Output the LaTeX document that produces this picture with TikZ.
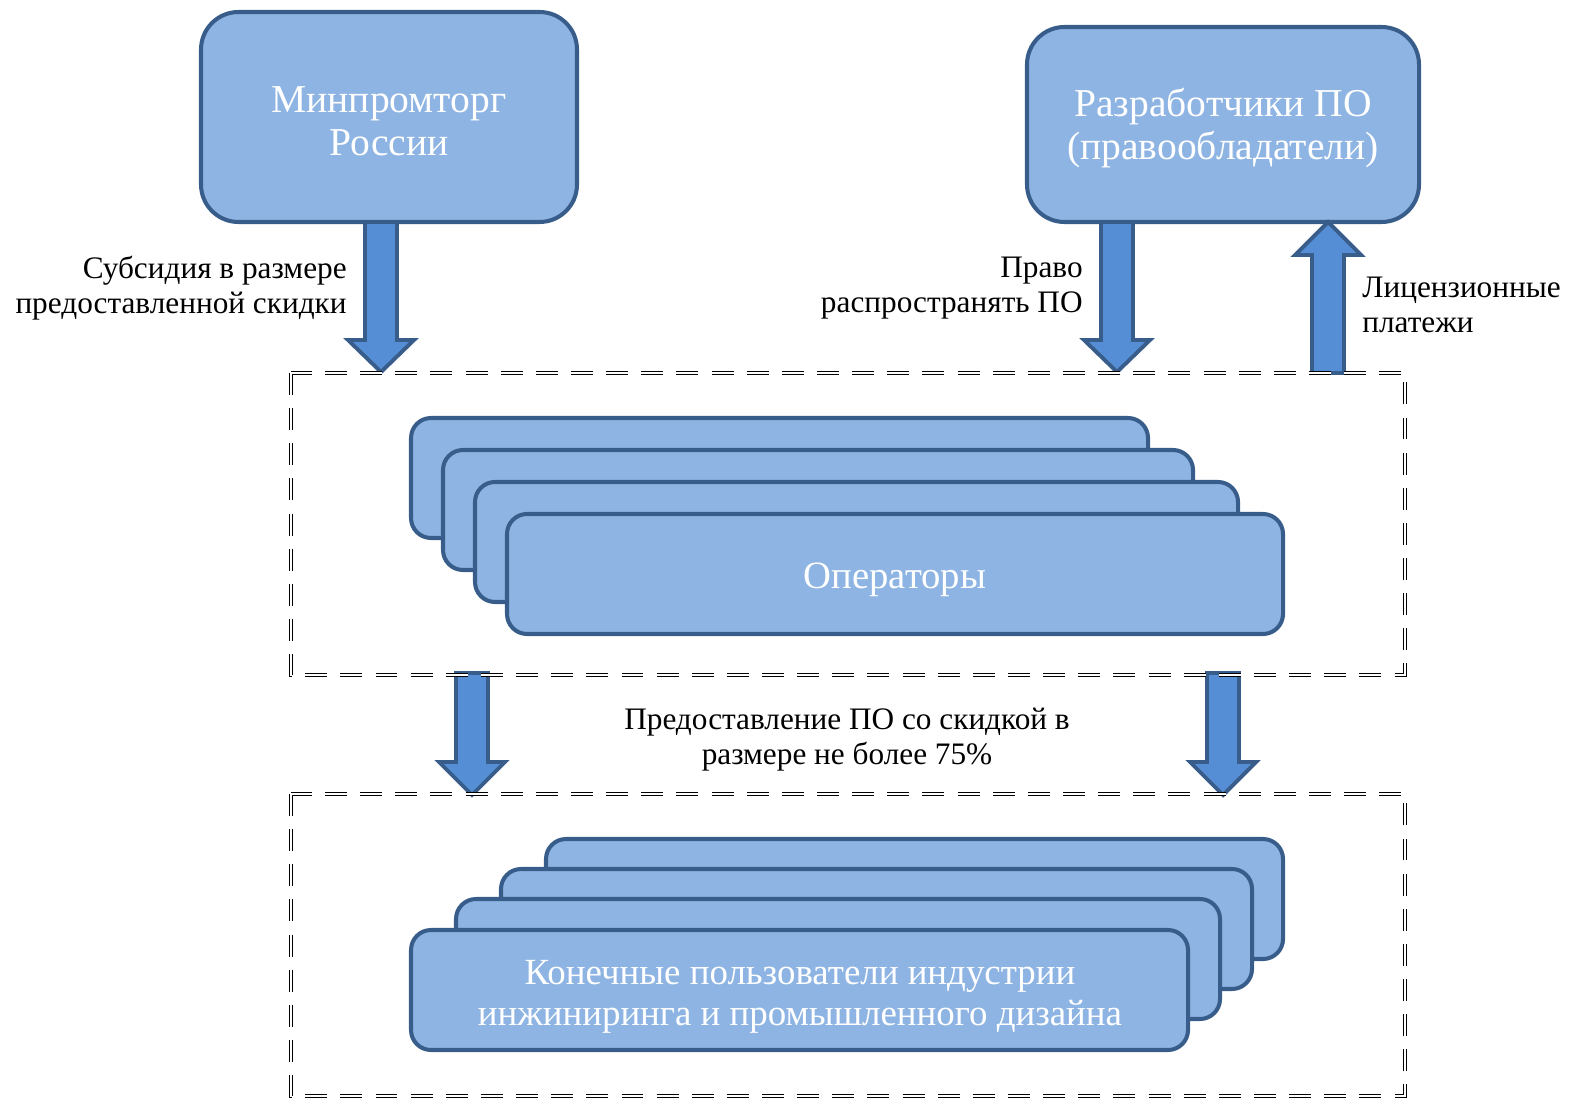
\documentclass[tikz,border=0pt]{standalone}
\usepackage{fontspec}
\setmainfont{Liberation Serif}

\definecolor{boxfill}{HTML}{8EB4E3}
\definecolor{boxline}{HTML}{385D8A}
\definecolor{arrfill}{HTML}{558ED5}

\tikzset{
  bigbox/.style={draw=boxline, fill=boxfill, line width=2.3pt, rounded corners=0.75cm},
  stackbox/.style={draw=boxline, fill=boxfill, line width=2.3pt, rounded corners=0.4cm},
  blockarr/.style={draw=boxline, fill=arrfill, line width=2.2pt, line join=miter},
  dashbox/.style={draw=black, double=white, double distance=0.8pt, line width=0.95pt, dash pattern=on 12.5pt off 7.5pt},
  intext/.style={text=white, align=center, inner sep=0pt, font=\fontsize{22.5}{24.5}\selectfont},
  lbl/.style={inner sep=0pt, font=\fontsize{17.8}{19.9}\selectfont}
}

% x, tail y, head base y, tip y
\newcommand{\blockarrow}[4]{%
  \draw[blockarr] (#1-16,#2) -- (#1-16,#3) -- (#1-33,#3) -- (#1,#4)
    -- (#1+33,#3) -- (#1+16,#3) -- (#1+16,#2) -- cycle;}

\begin{document}
\begin{tikzpicture}[x=0.02cm, y=-0.02cm]
\useasboundingbox (0,0) rectangle (1577,1104);

% top boxes
\draw[bigbox] (201,12) rectangle (577,222);
\draw[bigbox] (1027,27) rectangle (1419,222);

% operators stack
\foreach \xa/\ya/\xb in {411/418/1148, 443/450/1193, 475/482/1238, 507/514/1283}
  \draw[stackbox] (\xa,\ya) rectangle (\xb,\ya+120);

% end users stack
\foreach \xa/\ya/\xb in {546/839/1283, 501/869/1252, 456/899/1220, 411/930/1188}
  \draw[stackbox] (\xa,\ya) rectangle (\xb,\ya+120);

% arrows
\blockarrow{381}{222}{340}{372}
\blockarrow{1117}{222}{340}{372}
\blockarrow{1328}{373}{255}{222}
\blockarrow{472}{673}{762}{795}
\blockarrow{1223}{673}{762}{795}

% dashed frames
\draw[dashbox] (291,373) rectangle (1405,675);
\draw[dashbox] (291,794) rectangle (1405,1096);

\node[intext] (minprom) at (389,121) {Минпромторг\\России};
\node[intext] (razrab) at (1223,128) {Разработчики ПО\\(правообладатели)};
\node[intext, font=\fontsize{22}{24}\selectfont] (oper) at (895,580) {Операторы};
\node[intext, font=\fontsize{21}{23.2}\selectfont] (users) at (800,997)
  {Конечные пользователи индустрии\\инжиниринга и промышленного дизайна};

\node[lbl, anchor=east, align=right] (subs) at (347,288) {Субсидия в размере\\предоставленной скидки};
\node[lbl, anchor=east, align=right] (pravo) at (1083,288) {Право\\распространять ПО};
\node[lbl, anchor=west, align=left] (lic) at (1362,305) {Лицензионные\\платежи};
\node[lbl, align=center] (predost) at (847,740) {Предоставление ПО со скидкой в\\размере не более 75\%};

\end{tikzpicture}
\end{document}
